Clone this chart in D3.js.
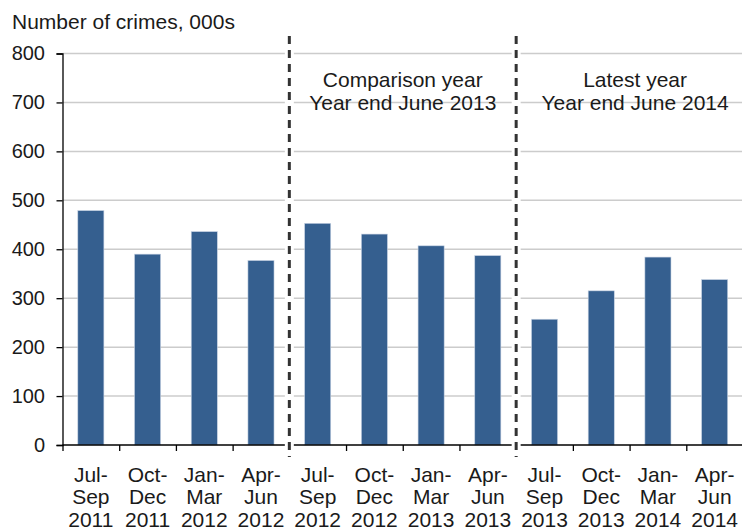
<!DOCTYPE html>
<html><head><meta charset="utf-8">
<script src="https://cdn.jsdelivr.net/npm/d3@7"></script>
<style>body{margin:0;background:#fff}svg{display:block}text{font-family:"Liberation Sans",Arial,sans-serif;fill:#1a1a1a}</style>
</head><body>
<svg id="c" width="742" height="528"></svg>
<script>
const line1 = ["Jul-","Oct-","Jan-","Apr-","Jul-","Oct-","Jan-","Apr-","Jul-","Oct-","Jan-","Apr-"];
const line2 = ["Sep","Dec","Mar","Jun","Sep","Dec","Mar","Jun","Sep","Dec","Mar","Jun"];
const line3 = ["2011","2011","2012","2012","2012","2012","2013","2013","2013","2013","2014","2014"];
const values = [479, 390, 436, 377, 453, 431, 407, 387, 257, 315, 384, 338];
const yTicks = [0,100,200,300,400,500,600,700,800];
const dividers = [4, 8];
const annotations = [["Comparison year","Year end June 2013"],["Latest year","Year end June 2014"]];
const yTitle = "Number of crimes, 000s";

const svg = d3.select("#c");
const pLeft = 62.5, pRight = 743, pTop = 53.5, pBottom = 445;
const idx = d3.range(values.length);
const x = d3.scaleBand().domain(idx).range([pLeft, pRight]).paddingInner(0.54).paddingOuter(0.27);
const xb = d3.scaleLinear().domain([0, values.length]).range([pLeft, pRight]);
const y = d3.scaleLinear().domain([0, 800]).range([pBottom, pTop]);

// gridlines
svg.append("g").selectAll("line").data(yTicks.filter(d=>d>0)).join("line")
  .attr("x1", pLeft).attr("x2", pRight).attr("y1", d=>y(d)).attr("y2", d=>y(d))
  .attr("stroke", "#cccccc").attr("stroke-width", 1.5);

// bars
svg.append("g").selectAll("rect").data(values).join("rect")
  .attr("x", (d,i)=>x(i)).attr("width", x.bandwidth())
  .attr("y", d=>y(d)).attr("height", d=>pBottom - y(d))
  .attr("fill", "#355f8f").attr("stroke", "#c7d3e3").attr("stroke-width", 0.6);

// y axis
const yAxis = d3.axisLeft(y).tickValues(yTicks).tickSize(6).tickPadding(11.5).tickFormat(d3.format("d"));
const gy = svg.append("g").attr("transform", `translate(${pLeft},0)`).call(yAxis);
gy.select(".domain").attr("stroke", "#000").attr("stroke-width", 1.3);
gy.selectAll(".tick line").attr("stroke", "#000").attr("stroke-width", 1.3);
gy.selectAll(".tick text").style("font-size", "20px").attr("fill", "#1a1a1a")
  .style("font-family", '"Liberation Sans",Arial,sans-serif');

// x axis
const xAxis = d3.axisBottom(xb).tickValues(d3.range(values.length+1)).tickSize(6).tickFormat("");
const gx = svg.append("g").attr("transform", `translate(0,${pBottom})`).call(xAxis);
gx.select(".domain").attr("stroke", "#000").attr("stroke-width", 1.3).attr("d", `M${pLeft},0H${pRight}`);
gx.selectAll(".tick line").attr("stroke", "#000").attr("stroke-width", 1.3);

// x labels
const lab = svg.append("g").selectAll("text").data(idx).join("text")
  .attr("x", i=>x(i)+x.bandwidth()/2).attr("text-anchor","middle").style("font-size","21px");
lab.append("tspan").attr("x", i=>x(i)+x.bandwidth()/2).attr("y", 481.5).text(i=>line1[i]);
lab.append("tspan").attr("x", i=>x(i)+x.bandwidth()/2).attr("y", 504).text(i=>line2[i]);
lab.append("tspan").attr("x", i=>x(i)+x.bandwidth()/2).attr("y", 526.5).text(i=>line3[i]);

// dividers
dividers.forEach(d=>{
  svg.append("line").attr("x1", xb(d)).attr("x2", xb(d)).attr("y1", 36).attr("y2", pBottom+12)
    .attr("stroke", "#fff").attr("stroke-width", 9);
  svg.append("line").attr("x1", xb(d)).attr("x2", xb(d)).attr("y1", 36).attr("y2", pBottom+12)
    .attr("stroke", "#333").attr("stroke-width", 3).attr("stroke-dasharray", "8,6");
});

// annotations
annotations.forEach((a,k)=>{
  const cx = k+1 < dividers.length ? (xb(dividers[k]) + xb(dividers[k+1]))/2 : (xb(dividers[k]) + pRight + 11)/2;
  svg.append("text").attr("x", cx).attr("y", 87).attr("text-anchor","middle").style("font-size","21px").text(a[0]);
  svg.append("text").attr("x", cx).attr("y", 110).attr("text-anchor","middle").style("font-size","21px").text(a[1]);
});

svg.append("text").attr("x", 12).attr("y", 28.5).style("font-size","21px").text(yTitle);
</script>
</body></html>
